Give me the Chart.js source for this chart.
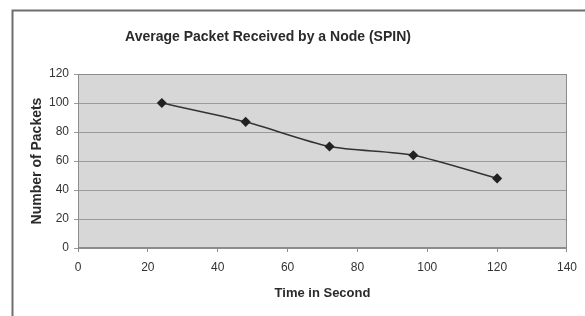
<!DOCTYPE html>
<html lang="en">
<head>
    <meta charset="UTF-8">
    <title>Average Packet Received by a Node (SPIN)</title>
    <style>
        html, body { margin: 0; padding: 0; background: #ffffff; }
        #wrap { width: 585px; height: 316px; }
    </style>
    <script src="https://cdn.jsdelivr.net/npm/chart.js"></script>
</head>
<body>
    <div id="wrap"><canvas id="chart" width="585" height="316"></canvas></div>

    <script>
        const chartTitle = "Average Packet Received by a Node (SPIN)";
        const timeSeconds = [24, 48, 72, 96, 120];
        const packets = [100, 87, 70, 64, 48];
        const xTicks = [0, 20, 40, 60, 80, 100, 120, 140];
        const yTicks = [0, 20, 40, 60, 80, 100, 120];

        const points = timeSeconds.map((t, i) => ({ x: t, y: packets[i] }));
        const fontFamily = "Arial, 'Liberation Sans', sans-serif";

        // white page, old-Excel grey plot area, outer frame lines and the title
        const backdrop = {
            id: "backdrop",
            beforeDraw(chart) {
                const ctx = chart.ctx;
                const a = chart.chartArea;
                ctx.save();
                ctx.fillStyle = "#ffffff";
                ctx.fillRect(0, 0, chart.width, chart.height);
                ctx.fillStyle = "#d7d7d7";
                ctx.fillRect(a.left, a.top, a.right - a.left, a.bottom - a.top);
                ctx.strokeStyle = "#6e6e6e";
                ctx.lineWidth = 2;
                ctx.beginPath();
                ctx.moveTo(12.5, chart.height);
                ctx.lineTo(12.5, 10.5);
                ctx.lineTo(chart.width, 10.5);
                ctx.stroke();
                // title (centred a bit left of the page, like the scan)
                ctx.fillStyle = "#2a2a2a";
                ctx.font = "bold 14px " + fontFamily;
                ctx.textAlign = "center";
                ctx.textBaseline = "middle";
                ctx.fillText(chartTitle, 268, 37);
                ctx.restore();
            },
            beforeDatasetsDraw(chart) {
                const ctx = chart.ctx;
                const a = chart.chartArea;
                ctx.save();
                ctx.strokeStyle = "#8c8c8c";
                ctx.lineWidth = 1;
                ctx.strokeRect(a.left + 0.5, a.top + 0.5, a.right - a.left - 1, a.bottom - a.top - 1);
                ctx.restore();
            }
        };

        const tickFont = { family: fontFamily, size: 12 };

        new Chart(document.getElementById("chart"), {
            type: "line",
            data: {
                datasets: [{
                    data: points,
                    borderColor: "#333333",
                    borderWidth: 1.5,
                    tension: 0.25,
                    pointStyle: "rectRot",
                    pointRadius: 4,
                    pointBackgroundColor: "#222222",
                    pointBorderColor: "#222222",
                    fill: false
                }]
            },
            options: {
                responsive: false,
                animation: false,
                events: [],
                layout: { padding: { left: 0, right: 18, top: 74, bottom: 0 } },
                plugins: {
                    legend: { display: false },
                    tooltip: { enabled: false },
                    title: { display: false }
                },
                scales: {
                    x: {
                        type: "linear",
                        min: 0,
                        max: 140,
                        afterBuildTicks: (s) => { s.ticks = xTicks.map(v => ({ value: v })); },
                        afterFit: (s) => { s.height = 68; },
                        ticks: { color: "#333333", font: tickFont, padding: 8, maxRotation: 0 },
                        grid: { drawOnChartArea: false, drawTicks: true, tickLength: 4, color: "#8c8c8c" },
                        border: { color: "#8c8c8c" },
                        title: {
                            display: true,
                            text: "Time in Second",
                            color: "#2a2a2a",
                            font: { family: fontFamily, size: 13, weight: "bold" },
                            padding: { top: 0, bottom: 15 }
                        }
                    },
                    y: {
                        min: 0,
                        max: 120,
                        afterBuildTicks: (s) => { s.ticks = yTicks.map(v => ({ value: v })); },
                        afterFit: (s) => { s.width = 78; },
                        ticks: { color: "#333333", font: tickFont, padding: 5 },
                        grid: { color: "#9a9a9a", tickLength: 4, drawTicks: true },
                        border: { color: "#8c8c8c" },
                        title: {
                            display: true,
                            text: "Number of Packets",
                            color: "#2a2a2a",
                            font: { family: fontFamily, size: 14, weight: "bold" },
                            padding: { top: 29, bottom: 0 }
                        }
                    }
                }
            },
            plugins: [backdrop]
        });
    </script>
</body>
</html>
